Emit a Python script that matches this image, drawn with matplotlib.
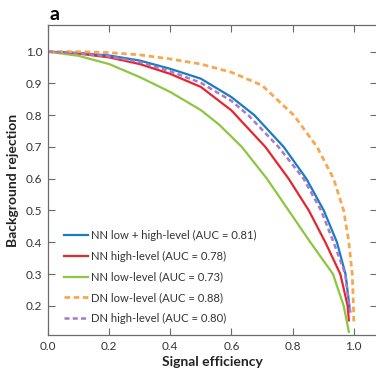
import matplotlib.pyplot as plt

# ----------------------------
# Data
# ----------------------------

labels = [
    "NN low + high-level (AUC = 0.81)",
    "NN high-level (AUC = 0.78)",
    "NN low-level (AUC = 0.73)",
    "DN low-level (AUC = 0.88)",
    "DN high-level (AUC = 0.80)",
]

nn_both_x = [0, 0.1, 0.2, 0.3, 0.4, 0.5, 0.6, 0.675, 0.771, 0.845, 0.902, 0.945, 0.973, 0.986]
nn_both_y = [1.0, 0.996, 0.988, 0.972, 0.946, 0.915, 0.857, 0.8, 0.7, 0.6, 0.5, 0.4, 0.3, 0.197]

nn_high_x = [0, 0.1, 0.2, 0.3, 0.4, 0.5, 0.6, 0.711, 0.787, 0.853, 0.907, 0.956, 0.98, 0.984]
nn_high_y = [1.0, 0.994, 0.982, 0.961, 0.93, 0.889, 0.815, 0.7, 0.6, 0.5, 0.4, 0.3, 0.2, 0.154]

nn_low_x = [0, 0.1, 0.2, 0.3, 0.4, 0.5, 0.56, 0.634, 0.716, 0.787, 0.858, 0.932, 0.967, 0.984]
nn_low_y = [1.0, 0.987, 0.961, 0.92, 0.873, 0.816, 0.77, 0.7, 0.6, 0.5, 0.4, 0.3, 0.2, 0.118]

dn_low_x = [0, 0.1, 0.2, 0.3, 0.4, 0.5, 0.6, 0.7, 0.775, 0.804, 0.88, 0.934, 0.967, 0.984, 0.995, 0.999, 1.0]
dn_low_y = [1.0, 1.0, 0.997, 0.99, 0.977, 0.961, 0.935, 0.894, 0.826, 0.8, 0.7, 0.6, 0.5, 0.4, 0.3, 0.2, 0.15]

dn_high_x = [0, 0.1, 0.2, 0.3, 0.4, 0.5, 0.6, 0.655, 0.754, 0.836, 0.893, 0.934, 0.972, 0.985, 0.991]
dn_high_y = [1.0, 0.995, 0.985, 0.967, 0.938, 0.902, 0.845, 0.8, 0.7, 0.6, 0.5, 0.4, 0.3, 0.2, 0.17]

x_ticks = [0.0, 0.2, 0.4, 0.6, 0.8, 1.0]
y_ticks = [0.2, 0.3, 0.4, 0.5, 0.6, 0.7, 0.8, 0.9, 1.0]

# ----------------------------
# Styling
# ----------------------------

plt.rcParams['font.family'] = ['Lato', 'DejaVu Sans']

blue = "#1b7bc3"
red = "#e8252d"
green = "#8dc63f"
orange = "#f7a84e"
purple = "#a77bc8"
axis_grey = "#6b6b6b"
text_grey = "#333333"

fig = plt.figure(figsize=(3.76, 3.70), dpi=100)
ax = fig.add_axes([48 / 376, 35 / 370, 329 / 376, 310 / 370])

ax.plot(nn_both_x, nn_both_y, color=blue, lw=1.6, label=labels[0])
ax.plot(nn_high_x, nn_high_y, color=red, lw=1.6, label=labels[1])
ax.plot(nn_low_x, nn_low_y, color=green, lw=1.6, label=labels[2])
ax.plot(dn_low_x, dn_low_y, color=orange, lw=2.0, dashes=(2.0, 1.3), label=labels[3])
ax.plot(dn_high_x, dn_high_y, color=purple, lw=1.8, dashes=(2.0, 1.3), label=labels[4])

ax.set_xlim(0, 1.076)
ax.set_ylim(0.108, 1.084)
ax.set_xticks(x_ticks)
ax.set_yticks(y_ticks)
ax.set_xticklabels([f"{v:.1f}" for v in x_ticks])
ax.set_yticklabels([f"{v:.1f}" for v in y_ticks])

for side in ['left', 'bottom', 'top']:
    ax.spines[side].set_color(axis_grey)
    ax.spines[side].set_linewidth(0.9)
ax.spines['right'].set_visible(False)

ax.tick_params(axis='x', direction='in', length=5, width=0.8, color=axis_grey,
               labelsize=8.5, labelcolor=text_grey, top=True, pad=4)
ax.tick_params(axis='y', direction='in', length=5, width=0.8, color=axis_grey,
               labelsize=8.5, labelcolor=text_grey, right=True, pad=4)

ax.set_xlabel("Signal efficiency", fontsize=10, fontweight='bold', color='#222222', labelpad=3)
ax.set_ylabel("Background rejection", fontsize=10, fontweight='bold', color='#222222', labelpad=5)

fig.text(49 / 376, 1 - 15 / 370, "a", fontsize=14, fontweight='bold', va='center', ha='left')

ax.legend(loc='lower left', bbox_to_anchor=(0.05, 0.035), frameon=False,
          fontsize=8.1, handlelength=2.05, handletextpad=0.35, labelspacing=0.86,
          borderaxespad=0, borderpad=0, labelcolor=text_grey)

fig.savefig("out.png", dpi=100)
